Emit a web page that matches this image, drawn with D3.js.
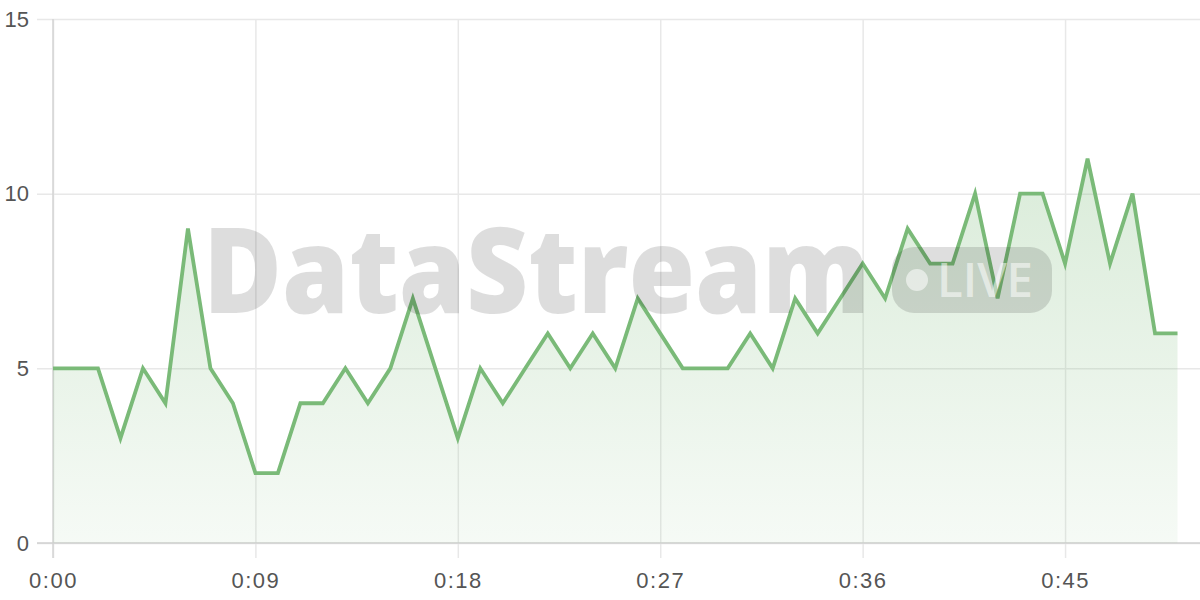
<!DOCTYPE html>
<html lang="en">
<head>
<meta charset="UTF-8">
<title>DataStream</title>
<script src="https://d3js.org/d3.v7.min.js"></script>
<style>
  body { margin: 0; background: #fff; }
  svg { display: block; }
  .tick text { font-family: "Liberation Sans", Arial, sans-serif; font-size: 22px; fill: #555; }
  .x-axis .tick text { letter-spacing: 1.5px; }
</style>
</head>
<body>
<script>
// one reading per second, 0s .. 50s
var seconds = d3.range(0, 51);
var values = [5, 5, 5, 3, 5, 4, 9, 5, 4, 2,
              2, 4, 4, 5, 4, 5, 7, 5, 3, 5,
              4, 5, 6, 5, 6, 5, 7, 6, 5, 5,
              5, 6, 5, 7, 6, 7, 8, 7, 9, 8,
              8, 10, 7, 10, 10, 8, 11, 8, 10, 6,
              6];
var xTicks = [0, 9, 18, 27, 36, 45];
var yTicks = [0, 5, 10, 15];

var w = 1200, h = 600;
var pl = 53, pr = 1200, pt = 19, pb = 543;

var svg = d3.select("body").append("svg")
    .attr("width", w)
    .attr("height", h);

var x = d3.scaleLinear().domain([0, 51]).range([pl, pr]);
var y = d3.scaleLinear().domain([0, 15]).range([pb, pt]);

function fmt(s) { return Math.floor(s / 60) + ":" + d3.format("02d")(s % 60); }

var grad = svg.append("defs").append("linearGradient")
    .attr("id", "fill")
    .attr("gradientUnits", "userSpaceOnUse")
    .attr("x1", 0).attr("x2", 0)
    .attr("y1", y(11)).attr("y2", y(0));
grad.append("stop").attr("offset", 0).attr("stop-color", "#7aba78").attr("stop-opacity", 0.28);
grad.append("stop").attr("offset", 1).attr("stop-color", "#7aba78").attr("stop-opacity", 0.07);

// grid
svg.append("g")
    .attr("transform", "translate(" + pl + ",0)")
    .call(d3.axisLeft(y).tickValues(yTicks).tickSize(16).tickPadding(8))
    .call(function (g) {
        g.select(".domain").remove();
        g.selectAll(".tick line").attr("stroke", "#e8e8e8").attr("stroke-width", 1.5)
            .attr("x2", pr - pl).attr("x1", -16);
    });

svg.append("g")
    .attr("class", "x-axis")
    .attr("transform", "translate(0," + pb + ")")
    .call(d3.axisBottom(x).tickValues(xTicks).tickFormat(fmt).tickSize(15).tickPadding(14))
    .call(function (g) {
        g.select(".domain").remove();
        g.selectAll(".tick line").attr("stroke", "#e8e8e8").attr("stroke-width", 1.5)
            .attr("y1", pt - pb).attr("y2", 15);
    });

// axis lines
svg.append("line").attr("x1", pl).attr("x2", pl).attr("y1", pt).attr("y2", pb + 15)
    .attr("stroke", "#d4d4d4").attr("stroke-width", 1.5);
svg.append("line").attr("x1", pl - 16).attr("x2", pr).attr("y1", pb).attr("y2", pb)
    .attr("stroke", "#d0d0d0").attr("stroke-width", 1.5);

var pts = seconds.map(function (s, i) { return [s, values[i]]; });

svg.append("path")
    .datum(pts)
    .attr("fill", "url(#fill)")
    .attr("d", d3.area().x(function (d) { return x(d[0]); }).y0(y(0)).y1(function (d) { return y(d[1]); }));

svg.append("path")
    .datum(pts)
    .attr("fill", "none")
    .attr("stroke", "#7aba78")
    .attr("stroke-width", 3.8)
    .attr("d", d3.line().x(function (d) { return x(d[0]); }).y(function (d) { return y(d[1]); }));

// watermark
var wm = svg.append("g").attr("pointer-events", "none");
wm.append("text")
    .attr("x", 203).attr("y", 313)
    .attr("textLength", 667).attr("lengthAdjust", "spacingAndGlyphs")
    .style("font-family", "'Open Sans', 'Noto Sans', sans-serif")
    .style("font-weight", 800)
    .style("font-size", "119px")
    .attr("fill", "rgba(0,0,0,0.135)")
    .text("DataStream");
wm.append("rect")
    .attr("x", 892).attr("y", 247).attr("width", 160).attr("height", 66).attr("rx", 22)
    .attr("fill", "rgba(0,0,0,0.13)");
wm.append("circle")
    .attr("cx", 917).attr("cy", 280).attr("r", 11)
    .attr("fill", "rgba(255,255,255,0.55)");
wm.append("text")
    .attr("x", 937).attr("y", 297)
    .attr("textLength", 96).attr("lengthAdjust", "spacingAndGlyphs")
    .style("font-family", "'Open Sans', 'Noto Sans', sans-serif")
    .style("font-weight", 600)
    .style("font-size", "47px")
    .attr("fill", "rgba(255,255,255,0.55)")
    .text("LIVE");
</script>
</body>
</html>
